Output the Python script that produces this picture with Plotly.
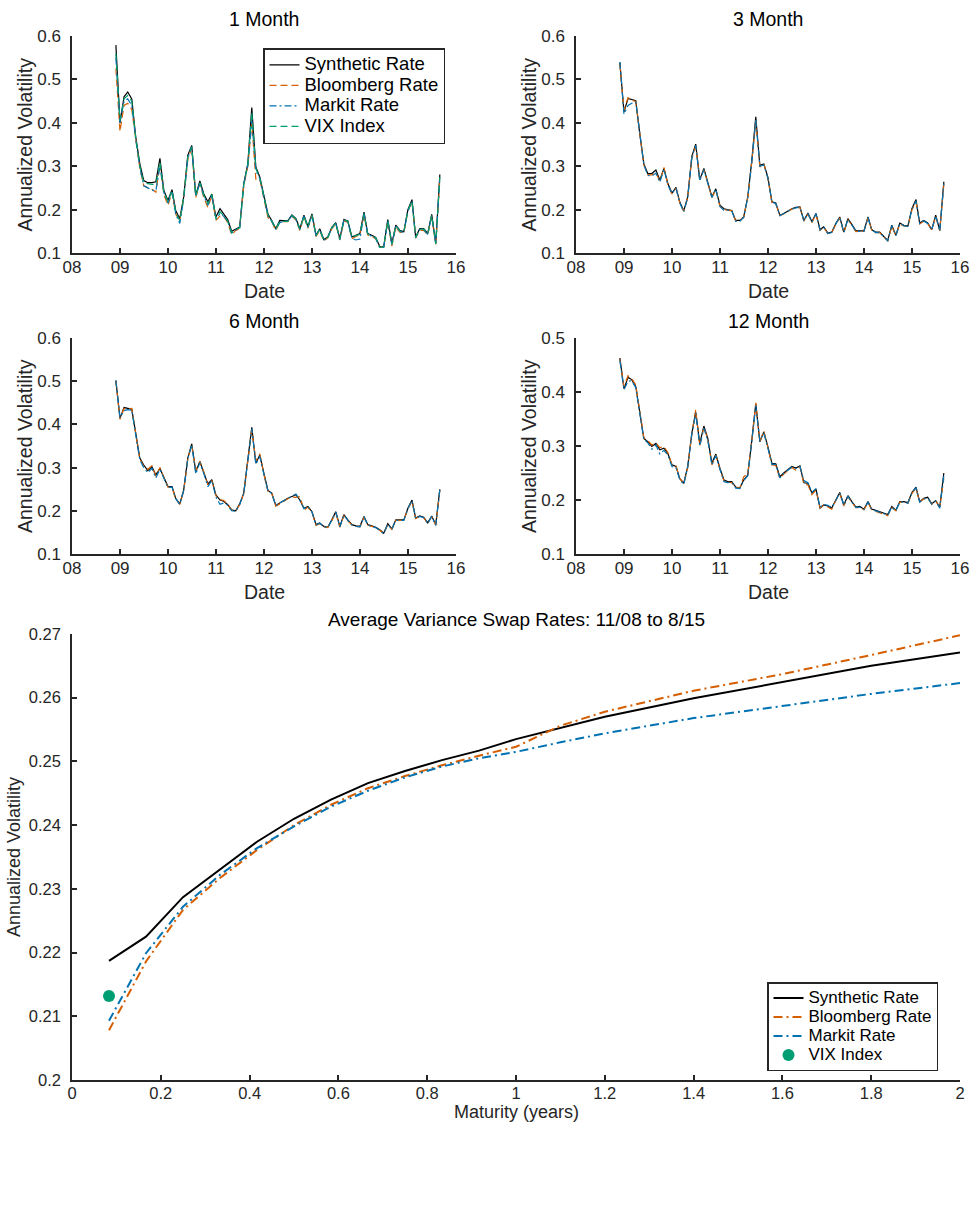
import plotly.graph_objects as go
import pandas as pd

# ---------------- data ----------------
series_names = ["Synthetic Rate", "Bloomberg Rate", "Markit Rate", "VIX Index"]
panel_titles = ["1 Month", "3 Month", "6 Month", "12 Month"]
year_ticks = ["2008-01-01", "2009-01-01", "2010-01-01", "2011-01-01", "2012-01-01",
              "2013-01-01", "2014-01-01", "2015-01-01", "2016-01-01"]
year_labels = ["08", "09", "10", "11", "12", "13", "14", "15", "16"]

dates = pd.date_range(start="2008-11-30", end="2015-08-31", freq=pd.offsets.MonthEnd())

synthetic_1m = [
    0.579, 0.400, 0.460, 0.471, 0.455, 0.367, 0.306, 0.267, 0.262, 0.262,
    0.264, 0.318, 0.244, 0.221, 0.246, 0.198, 0.179, 0.229, 0.325, 0.348,
    0.233, 0.266, 0.236, 0.218, 0.236, 0.183, 0.202, 0.190, 0.177, 0.150,
    0.156, 0.160, 0.260, 0.306, 0.435, 0.298, 0.275, 0.229, 0.190, 0.175,
    0.156, 0.175, 0.174, 0.174, 0.188, 0.179, 0.156, 0.187, 0.161, 0.190,
    0.141, 0.156, 0.131, 0.137, 0.159, 0.170, 0.133, 0.177, 0.174, 0.137,
    0.141, 0.145, 0.194, 0.145, 0.141, 0.136, 0.115, 0.115, 0.177, 0.122,
    0.164, 0.152, 0.149, 0.200, 0.223, 0.137, 0.156, 0.156, 0.145, 0.189,
    0.122, 0.281]
bloomberg_1m = [
    0.525, 0.380, 0.440, 0.445, 0.430, 0.360, 0.295, 0.255, 0.250, 0.247,
    0.240, 0.305, 0.235, 0.210, 0.240, 0.190, 0.175, 0.225, 0.315, 0.342,
    0.228, 0.260, 0.228, 0.205, 0.232, 0.175, 0.185, 0.185, 0.170, 0.142,
    0.152, 0.156, 0.255, 0.300, 0.400, 0.270, 0.270, 0.225, 0.182, 0.172,
    0.152, 0.172, 0.172, 0.172, 0.185, 0.176, 0.152, 0.184, 0.157, 0.186,
    0.138, 0.152, 0.128, 0.135, 0.156, 0.167, 0.130, 0.174, 0.171, 0.133,
    0.138, 0.142, 0.188, 0.142, 0.138, 0.133, 0.113, 0.114, 0.172, 0.116,
    0.160, 0.148, 0.146, 0.196, 0.218, 0.134, 0.152, 0.152, 0.142, 0.184,
    0.120, 0.270]
markit_1m = [
    0.550, 0.400, 0.450, 0.455, 0.440, 0.362, 0.298, 0.255, 0.250, 0.245,
    0.243, 0.300, 0.240, 0.215, 0.242, 0.190, 0.168, 0.225, 0.318, 0.343,
    0.230, 0.262, 0.232, 0.210, 0.233, 0.180, 0.190, 0.185, 0.173, 0.146,
    0.153, 0.158, 0.258, 0.302, 0.405, 0.290, 0.272, 0.226, 0.186, 0.173,
    0.154, 0.170, 0.173, 0.173, 0.186, 0.177, 0.154, 0.185, 0.159, 0.187,
    0.139, 0.154, 0.129, 0.136, 0.157, 0.168, 0.131, 0.175, 0.172, 0.134,
    0.130, 0.132, 0.190, 0.143, 0.139, 0.134, 0.112, 0.113, 0.174, 0.118,
    0.162, 0.150, 0.147, 0.197, 0.219, 0.135, 0.154, 0.154, 0.143, 0.186,
    0.121, 0.272]
vix_1m = [
    0.560, 0.405, 0.455, 0.463, 0.450, 0.365, 0.300, 0.262, 0.260, 0.258,
    0.258, 0.310, 0.240, 0.218, 0.244, 0.195, 0.174, 0.227, 0.322, 0.345,
    0.232, 0.262, 0.233, 0.213, 0.235, 0.178, 0.195, 0.186, 0.173, 0.147,
    0.154, 0.158, 0.258, 0.305, 0.425, 0.295, 0.273, 0.227, 0.188, 0.174,
    0.155, 0.173, 0.173, 0.173, 0.186, 0.178, 0.155, 0.186, 0.160, 0.188,
    0.140, 0.155, 0.130, 0.136, 0.158, 0.169, 0.132, 0.176, 0.173, 0.136,
    0.140, 0.143, 0.191, 0.144, 0.140, 0.135, 0.113, 0.114, 0.175, 0.120,
    0.163, 0.151, 0.148, 0.198, 0.220, 0.136, 0.155, 0.155, 0.144, 0.187,
    0.121, 0.275]

synthetic_3m = [
    0.539, 0.425, 0.456, 0.454, 0.451, 0.375, 0.306, 0.283, 0.283, 0.291,
    0.268, 0.295, 0.260, 0.238, 0.251, 0.218, 0.197, 0.229, 0.322, 0.351,
    0.269, 0.295, 0.264, 0.229, 0.248, 0.210, 0.202, 0.200, 0.198, 0.175,
    0.175, 0.183, 0.229, 0.314, 0.414, 0.302, 0.305, 0.275, 0.218, 0.215,
    0.187, 0.191, 0.197, 0.202, 0.205, 0.206, 0.175, 0.192, 0.172, 0.191,
    0.154, 0.160, 0.146, 0.148, 0.168, 0.183, 0.148, 0.179, 0.166, 0.151,
    0.151, 0.151, 0.183, 0.154, 0.148, 0.148, 0.138, 0.129, 0.164, 0.141,
    0.169, 0.164, 0.162, 0.202, 0.223, 0.169, 0.175, 0.169, 0.154, 0.187,
    0.152, 0.264]
bloomberg_3m = [
    0.535, 0.428, 0.458, 0.452, 0.449, 0.372, 0.303, 0.280, 0.280, 0.285,
    0.265, 0.297, 0.258, 0.236, 0.249, 0.216, 0.196, 0.228, 0.318, 0.346,
    0.270, 0.292, 0.262, 0.228, 0.246, 0.208, 0.200, 0.199, 0.197, 0.174,
    0.175, 0.182, 0.228, 0.310, 0.405, 0.298, 0.306, 0.272, 0.216, 0.214,
    0.186, 0.190, 0.196, 0.201, 0.204, 0.205, 0.173, 0.190, 0.170, 0.189,
    0.152, 0.159, 0.145, 0.147, 0.166, 0.181, 0.146, 0.177, 0.164, 0.149,
    0.150, 0.150, 0.181, 0.153, 0.147, 0.147, 0.137, 0.128, 0.162, 0.140,
    0.167, 0.162, 0.161, 0.199, 0.218, 0.167, 0.173, 0.168, 0.153, 0.185,
    0.151, 0.258]
markit_3m = [
    0.540, 0.420, 0.440, 0.445, 0.448, 0.373, 0.304, 0.279, 0.277, 0.284,
    0.263, 0.293, 0.257, 0.237, 0.249, 0.216, 0.195, 0.228, 0.319, 0.348,
    0.266, 0.292, 0.262, 0.228, 0.247, 0.207, 0.198, 0.199, 0.197, 0.173,
    0.173, 0.182, 0.228, 0.311, 0.408, 0.300, 0.303, 0.273, 0.217, 0.214,
    0.186, 0.190, 0.196, 0.201, 0.204, 0.205, 0.174, 0.191, 0.171, 0.190,
    0.153, 0.159, 0.145, 0.147, 0.167, 0.182, 0.147, 0.178, 0.165, 0.150,
    0.150, 0.150, 0.182, 0.153, 0.147, 0.147, 0.137, 0.128, 0.163, 0.140,
    0.168, 0.163, 0.161, 0.200, 0.220, 0.168, 0.174, 0.168, 0.153, 0.186,
    0.151, 0.260]

synthetic_6m = [
    0.502, 0.414, 0.439, 0.437, 0.435, 0.379, 0.322, 0.306, 0.293, 0.302,
    0.283, 0.298, 0.279, 0.256, 0.256, 0.229, 0.216, 0.248, 0.322, 0.355,
    0.291, 0.314, 0.288, 0.262, 0.272, 0.237, 0.225, 0.222, 0.214, 0.202,
    0.200, 0.216, 0.241, 0.318, 0.393, 0.310, 0.329, 0.287, 0.247, 0.241,
    0.212, 0.218, 0.224, 0.229, 0.233, 0.237, 0.225, 0.206, 0.210, 0.198,
    0.168, 0.172, 0.164, 0.162, 0.179, 0.198, 0.164, 0.191, 0.179, 0.168,
    0.165, 0.164, 0.187, 0.168, 0.165, 0.162, 0.156, 0.148, 0.170, 0.158,
    0.179, 0.179, 0.179, 0.206, 0.225, 0.183, 0.188, 0.185, 0.172, 0.188,
    0.168, 0.250]
bloomberg_6m = [
    0.500, 0.412, 0.437, 0.436, 0.437, 0.377, 0.320, 0.303, 0.296, 0.304,
    0.280, 0.300, 0.277, 0.255, 0.254, 0.228, 0.215, 0.246, 0.320, 0.352,
    0.293, 0.315, 0.290, 0.260, 0.270, 0.235, 0.226, 0.224, 0.215, 0.201,
    0.200, 0.214, 0.240, 0.315, 0.388, 0.315, 0.332, 0.285, 0.245, 0.240,
    0.211, 0.216, 0.223, 0.228, 0.232, 0.231, 0.233, 0.202, 0.208, 0.197,
    0.166, 0.170, 0.163, 0.161, 0.177, 0.196, 0.162, 0.189, 0.177, 0.167,
    0.164, 0.163, 0.185, 0.167, 0.164, 0.161, 0.155, 0.147, 0.168, 0.157,
    0.178, 0.178, 0.178, 0.204, 0.222, 0.182, 0.187, 0.184, 0.171, 0.187,
    0.167, 0.248]
markit_6m = [
    0.501, 0.416, 0.432, 0.434, 0.433, 0.376, 0.318, 0.300, 0.288, 0.298,
    0.276, 0.296, 0.276, 0.254, 0.255, 0.228, 0.215, 0.247, 0.320, 0.353,
    0.285, 0.312, 0.286, 0.256, 0.270, 0.232, 0.215, 0.218, 0.213, 0.200,
    0.199, 0.215, 0.240, 0.316, 0.390, 0.308, 0.326, 0.285, 0.246, 0.240,
    0.212, 0.218, 0.223, 0.229, 0.234, 0.239, 0.224, 0.205, 0.210, 0.197,
    0.167, 0.171, 0.163, 0.161, 0.178, 0.197, 0.163, 0.190, 0.178, 0.167,
    0.164, 0.163, 0.186, 0.167, 0.164, 0.161, 0.155, 0.147, 0.169, 0.157,
    0.178, 0.178, 0.178, 0.205, 0.224, 0.182, 0.187, 0.184, 0.171, 0.187,
    0.166, 0.249]

synthetic_12m = [
    0.463, 0.406, 0.427, 0.423, 0.410, 0.365, 0.314, 0.308, 0.299, 0.305,
    0.293, 0.296, 0.286, 0.265, 0.262, 0.240, 0.231, 0.262, 0.323, 0.363,
    0.305, 0.337, 0.314, 0.268, 0.285, 0.259, 0.237, 0.234, 0.234, 0.224,
    0.222, 0.237, 0.246, 0.311, 0.378, 0.308, 0.326, 0.299, 0.268, 0.267,
    0.243, 0.250, 0.256, 0.262, 0.259, 0.263, 0.232, 0.231, 0.213, 0.220,
    0.185, 0.191, 0.189, 0.185, 0.200, 0.214, 0.191, 0.208, 0.197, 0.187,
    0.188, 0.183, 0.197, 0.183, 0.181, 0.178, 0.176, 0.173, 0.188, 0.181,
    0.197, 0.197, 0.195, 0.214, 0.224, 0.197, 0.203, 0.205, 0.193, 0.199,
    0.187, 0.250]
bloomberg_12m = [
    0.460, 0.410, 0.430, 0.425, 0.413, 0.368, 0.316, 0.310, 0.302, 0.306,
    0.297, 0.299, 0.288, 0.266, 0.263, 0.240, 0.230, 0.260, 0.322, 0.367,
    0.300, 0.335, 0.312, 0.265, 0.283, 0.257, 0.235, 0.233, 0.232, 0.223,
    0.222, 0.243, 0.249, 0.310, 0.380, 0.308, 0.328, 0.297, 0.265, 0.264,
    0.240, 0.248, 0.254, 0.260, 0.255, 0.262, 0.229, 0.228, 0.210, 0.218,
    0.186, 0.190, 0.187, 0.183, 0.199, 0.212, 0.189, 0.206, 0.195, 0.186,
    0.186, 0.182, 0.195, 0.182, 0.179, 0.176, 0.174, 0.171, 0.186, 0.180,
    0.196, 0.196, 0.194, 0.212, 0.222, 0.196, 0.202, 0.204, 0.192, 0.198,
    0.186, 0.240]
markit_12m = [
    0.458, 0.404, 0.420, 0.421, 0.408, 0.363, 0.313, 0.306, 0.294, 0.302,
    0.285, 0.292, 0.283, 0.262, 0.260, 0.238, 0.229, 0.261, 0.321, 0.360,
    0.300, 0.333, 0.310, 0.265, 0.282, 0.257, 0.234, 0.232, 0.233, 0.222,
    0.221, 0.236, 0.245, 0.309, 0.375, 0.310, 0.324, 0.296, 0.266, 0.266,
    0.241, 0.249, 0.255, 0.261, 0.258, 0.262, 0.236, 0.232, 0.214, 0.221,
    0.187, 0.192, 0.190, 0.186, 0.199, 0.213, 0.190, 0.207, 0.196, 0.186,
    0.187, 0.182, 0.196, 0.182, 0.180, 0.177, 0.175, 0.172, 0.187, 0.180,
    0.196, 0.196, 0.194, 0.213, 0.223, 0.196, 0.202, 0.204, 0.192, 0.198,
    0.185, 0.245]

# average term structure (bottom panel)
maturity_years = [0.0833, 0.1667, 0.25, 0.3333, 0.4167, 0.5, 0.5833, 0.6667, 0.75,
                  0.8333, 0.9167, 1.0, 1.1, 1.2, 1.4, 1.6, 1.8, 2.0]
avg_synthetic = [0.2187, 0.2225, 0.2287, 0.2331, 0.2374, 0.2410, 0.2440, 0.2466, 0.2485,
                 0.2502, 0.2517, 0.2535, 0.2553, 0.2570, 0.2599, 0.2625, 0.2650, 0.2671]
avg_bloomberg = [0.2078, 0.2186, 0.2267, 0.2317, 0.2361, 0.2400, 0.2432, 0.2458, 0.2477,
                 0.2494, 0.2509, 0.2523, 0.2556, 0.2578, 0.2611, 0.2637, 0.2667, 0.2698]
avg_markit = [0.2093, 0.2199, 0.2272, 0.2322, 0.2364, 0.2398, 0.2429, 0.2454, 0.2475,
              0.2492, 0.2505, 0.2515, 0.2530, 0.2544, 0.2568, 0.2587, 0.2606, 0.2623]
vix_maturity = [0.0833]
avg_vix = [0.2132]

bottom_yticks = [0.20, 0.21, 0.22, 0.23, 0.24, 0.25, 0.26, 0.27]
bottom_ylabels = ["0.2", "0.21", "0.22", "0.23", "0.24", "0.25", "0.26", "0.27"]
bottom_xticks = [0, 0.2, 0.4, 0.6, 0.8, 1.0, 1.2, 1.4, 1.6, 1.8, 2.0]
bottom_xlabels = ["0", "0.2", "0.4", "0.6", "0.8", "1", "1.2", "1.4", "1.6", "1.8", "2"]

for arr in [synthetic_1m, bloomberg_1m, markit_1m, vix_1m, synthetic_3m, bloomberg_3m,
            markit_3m, synthetic_6m, bloomberg_6m, markit_6m, synthetic_12m,
            bloomberg_12m, markit_12m]:
    assert len(arr) == len(dates), (len(arr), len(dates))

# ---------------- styling / geometry ----------------
FW, FH = 972, 1207
FONT = "Liberation Sans, Arial, Helvetica, sans-serif"
AX = "#262626"
C_SYN, C_BBG, C_MKT, C_VIX = "#000000", "#D55E00", "#0072B2", "#009E73"


def X(px):
    return px / FW


def Y(py):
    return 1 - py / FH


def legend_label(name, size):
    return f'<span style="font-size:{size}px">{name}</span>'


# (left, right, top, bottom) in page pixels
boxes = [(72, 456, 36, 253), (576, 960, 36, 253), (72, 456, 338, 554), (576, 960, 338, 554)]
yranges = [(0.1, 0.6), (0.1, 0.6), (0.1, 0.6), (0.1, 0.5)]
bottom_box = (72, 960, 634, 1080)

panel_data = [
    [synthetic_1m, bloomberg_1m, markit_1m, vix_1m],
    [synthetic_3m, bloomberg_3m, markit_3m],
    [synthetic_6m, bloomberg_6m, markit_6m],
    [synthetic_12m, bloomberg_12m, markit_12m],
]
top_styles = [
    dict(color=C_SYN, width=1.2, dash="solid"),
    dict(color=C_BBG, width=1.2, dash="7px,4px"),
    dict(color=C_MKT, width=1.2, dash="7px,3px,2px,3px"),
    dict(color=C_VIX, width=1.2, dash="7px,4px"),
]

fig = go.Figure()
layout = dict(
    width=FW, height=FH, margin=dict(l=0, r=0, t=0, b=0, autoexpand=False),
    paper_bgcolor="white", plot_bgcolor="white",
    font=dict(family=FONT, color=AX, size=17),
    showlegend=True,
    legend=dict(x=X(263), y=Y(48), xanchor="left", yanchor="top", bgcolor="white",
                bordercolor=AX, borderwidth=1.5, font=dict(size=13.5, color="black"),
                tracegroupgap=0, itemwidth=30),
    legend2=dict(x=X(767), y=Y(1071), xanchor="left", yanchor="bottom", bgcolor="white",
                 bordercolor=AX, borderwidth=1.5, font=dict(size=12, color="black"),
                 tracegroupgap=0, itemwidth=30),
)

annotations = []


def axis_common():
    return dict(showline=True, linecolor=AX, linewidth=1.5, ticks="inside", ticklen=5,
                tickwidth=1.5, tickcolor=AX, showgrid=False, zeroline=False, mirror=False,
                automargin=False, ticklabeloverflow="allow")


for k, ((l, r, t, b), (y0, y1), data) in enumerate(zip(boxes, yranges, panel_data)):
    n = k + 1
    xa = "xaxis" if n == 1 else f"xaxis{n}"
    ya = "yaxis" if n == 1 else f"yaxis{n}"
    xr = "x" if n == 1 else f"x{n}"
    yr = "y" if n == 1 else f"y{n}"
    layout[xa] = dict(domain=[X(l), X(r)], anchor=yr, type="date",
                      range=[year_ticks[0], year_ticks[-1]], tickvals=year_ticks,
                      ticktext=year_labels, tickfont=dict(size=17, color=AX),
                      ticklabelstandoff=-2, **axis_common())
    layout[ya] = dict(domain=[Y(b), Y(t)], anchor=xr, range=[y0, y1], dtick=0.1,
                      tickformat=".1f", tickfont=dict(size=17, color=AX),
                      ticklabelstandoff=6, **axis_common())
    for j, vals in enumerate(data):
        fig.add_trace(go.Scatter(
            x=dates, y=vals, mode="lines", name=legend_label(series_names[j], 18.5),
            line=top_styles[j], xaxis=xr, yaxis=yr, showlegend=(k == 0), legend="legend"))
    cx = (l + r) / 2
    annotations.append(dict(text=panel_titles[k], x=X(cx), y=Y(t - 17), xref="paper",
                            yref="paper", showarrow=False, xanchor="center", yanchor="middle",
                            font=dict(size=19.5, color="black")))
    annotations.append(dict(text="Date", x=X(cx), y=Y(b + 38), xref="paper", yref="paper",
                            showarrow=False, xanchor="center", yanchor="middle",
                            font=dict(size=19.5, color=AX)))
    annotations.append(dict(text="Annualized Volatility", x=X(l - 47), y=Y((t + b) / 2),
                            xref="paper", yref="paper", showarrow=False, textangle=-90,
                            xanchor="center", yanchor="middle",
                            font=dict(size=19.5, color=AX)))

# bottom panel
l, r, t, b = bottom_box
layout["xaxis5"] = dict(domain=[X(l), X(r)], anchor="y5", range=[0, 2],
                        tickvals=bottom_xticks, ticktext=bottom_xlabels,
                        tickfont=dict(size=16.5, color=AX), ticklabelstandoff=-3,
                        **axis_common())
layout["yaxis5"] = dict(domain=[Y(b), Y(t)], anchor="x5", range=[0.2, 0.27],
                        tickvals=bottom_yticks, ticktext=bottom_ylabels,
                        tickfont=dict(size=16.5, color=AX), ticklabelstandoff=6,
                        **axis_common())

fig.add_trace(go.Scatter(x=maturity_years, y=avg_synthetic, mode="lines",
                         name=legend_label(series_names[0], 17),
                         line=dict(color=C_SYN, width=2), xaxis="x5", yaxis="y5",
                         legend="legend2"))
fig.add_trace(go.Scatter(x=maturity_years, y=avg_bloomberg, mode="lines",
                         name=legend_label(series_names[1], 17),
                         line=dict(color=C_BBG, width=2, dash="9px,4px,2px,4px"),
                         xaxis="x5", yaxis="y5", legend="legend2"))
fig.add_trace(go.Scatter(x=maturity_years, y=avg_markit, mode="lines",
                         name=legend_label(series_names[2], 17),
                         line=dict(color=C_MKT, width=2, dash="9px,4px,2px,4px"),
                         xaxis="x5", yaxis="y5", legend="legend2"))
fig.add_trace(go.Scatter(x=vix_maturity, y=avg_vix, mode="markers",
                         name=legend_label(series_names[3], 17),
                         marker=dict(color=C_VIX, size=12), xaxis="x5", yaxis="y5",
                         legend="legend2"))

cx = (l + r) / 2
annotations.append(dict(text="Average Variance Swap Rates: 11/08 to 8/15", x=X(cx), y=Y(619),
                        xref="paper", yref="paper", showarrow=False, xanchor="center",
                        yanchor="middle", font=dict(size=19, color="black")))
annotations.append(dict(text="Maturity (years)", x=X(cx), y=Y(1112), xref="paper",
                        yref="paper", showarrow=False, xanchor="center", yanchor="middle",
                        font=dict(size=18, color=AX)))
annotations.append(dict(text="Annualized Volatility", x=X(14), y=Y((t + b) / 2),
                        xref="paper", yref="paper", showarrow=False, textangle=-90,
                        xanchor="center", yanchor="middle", font=dict(size=18, color=AX)))

layout["annotations"] = annotations
fig.update_layout(**layout)
fig.write_html(
    "out.html",
    config={"displayModeBar": False},
    post_script="document.body.style.margin='0';"
                "document.documentElement.style.overflow='hidden';",
)
